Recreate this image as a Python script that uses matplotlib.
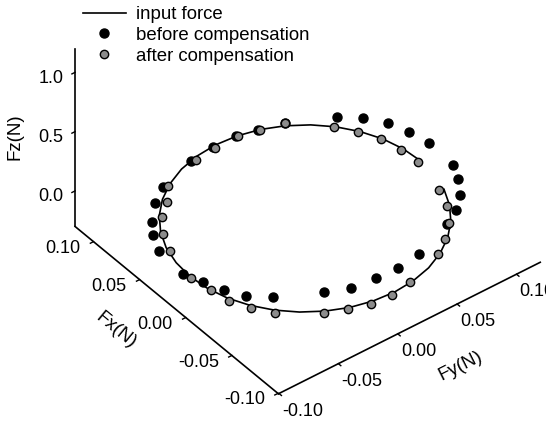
import matplotlib
matplotlib.use('Agg')
import matplotlib.pyplot as plt
import numpy as np

plt.rcParams['font.family'] = ['Liberation Sans', 'DejaVu Sans']
plt.rcParams['axes.unicode_minus'] = False

# Input force: circle in the Fx-Fy plane, read every 10 deg (nan = gap in the trace)
input_fx = [0.097, 0.0955, 0.0912, 0.084, 0.0743, 0.0624, 0.0485, 0.0332, 0.0168, 0.0,
            np.nan, -0.0332, -0.0485, -0.0624, -0.0743, -0.084, -0.0912, -0.0955, -0.097,
            -0.0955, -0.0912, -0.084, -0.0743, -0.0624, -0.0485, -0.0332, -0.0168, 0.0,
            0.0168, 0.0332, 0.0485, 0.0624, 0.0743, 0.084, 0.0912, 0.0955, 0.097]
input_fy = [0.0, 0.0168, 0.0332, 0.0485, 0.0624, 0.0743, 0.084, 0.0912, 0.0955, 0.097,
            np.nan, 0.0912, 0.084, 0.0743, 0.0624, 0.0485, 0.0332, 0.0168, 0.0,
            -0.0168, -0.0332, -0.0485, -0.0624, -0.0743, -0.084, -0.0912, -0.0955, -0.097,
            -0.0955, -0.0912, -0.084, -0.0743, -0.0624, -0.0485, -0.0332, -0.0168, 0.0]
input_fz = [0.03] * len(input_fx)

# Before compensation
before_fx = [0.070, 0.058, 0.044, 0.028, 0.011, -0.017, -0.031, -0.044, -0.055, -0.063,
             -0.076, -0.079, -0.078, -0.076, -0.068, -0.051, -0.039, -0.025, -0.010, 0.005,
             0.034, 0.049, 0.060, 0.074, 0.084, 0.094, 0.096, 0.096, 0.092, 0.086]
before_fy = [0.081, 0.094, 0.104, 0.109, 0.113, 0.111, 0.105, 0.096, 0.084, 0.071,
             0.037, 0.017, -0.001, -0.020, -0.037, -0.067, -0.080, -0.088, -0.094, -0.099,
             -0.097, -0.090, -0.082, -0.069, -0.054, -0.023, -0.003, 0.016, 0.032, 0.050]
before_fz = [0.03] * len(before_fx)

# After compensation
after_fx = [0.063, 0.049, 0.034, 0.017, 0.000, -0.032, -0.048, -0.063, -0.074, -0.084,
            -0.095, -0.098, -0.097, -0.092, -0.085, -0.065, -0.051, -0.036, -0.020, -0.002,
            0.029, 0.046, 0.060, 0.070, 0.083, 0.093, 0.095, 0.095, 0.091, 0.086]
after_fy = [0.073, 0.083, 0.090, 0.094, 0.095, 0.088, 0.082, 0.072, 0.060, 0.047,
            0.015, -0.003, -0.020, -0.035, -0.050, -0.076, -0.085, -0.092, -0.095, -0.098,
            -0.091, -0.084, -0.074, -0.062, -0.051, -0.020, -0.002, 0.017, 0.033, 0.050]
after_fz = [0.03] * len(after_fx)

fxy_ticks = [-0.10, -0.05, 0.00, 0.05, 0.10]
fz_ticks = [0.0, 0.5, 1.0]

# axis ranges (Fx and Fy share one)
f_lo, f_hi = -0.1005, 0.12
z_lo, z_hi = -0.3, 1.2

fig = plt.figure(figsize=(5.46, 4.23), dpi=100)
ax = fig.add_axes([0.053, 0.119, 1, 1], projection='3d', proj_type='ortho',
                  computed_zorder=False)
ax.view_init(elev=40, azim=-128)

# matplotlib x = Fy, y = Fx (keeps the original left-handed look)
ax.plot(input_fy, input_fx, input_fz, color='black', lw=1.2, zorder=1,
        label='input force')
ax.plot(before_fy, before_fx, before_fz, ls='none', marker='o', ms=6.5,
        mfc='black', mec='black', zorder=2, label='before compensation')
ax.plot(after_fy, after_fx, after_fz, ls='none', marker='o', ms=6,
        mfc='#8c8c8c', mec='black', mew=1.0, zorder=3, label='after compensation')

ax.set_xlim(f_lo, f_hi)
ax.set_ylim(f_lo, f_hi)
ax.set_zlim(z_lo, z_hi)
ax.set_box_aspect((332, 330, 232), zoom=1.2)

ax.set_xticks(fxy_ticks)
ax.set_yticks(fxy_ticks)
ax.set_zticks(fz_ticks)

ax.grid(False)
for axis in (ax.xaxis, ax.yaxis, ax.zaxis):
    axis.set_tick_params(labelbottom=False)
    axis.label.set_visible(False)
    axis.offsetText.set_visible(False)
    axis.set_pane_color((1, 1, 1, 0))
    axis.pane.set_edgecolor((1, 1, 1, 0))
    axis.line.set_color('black')
    axis.line.set_linewidth(1.2)
    axis._axinfo['tick']['inward_factor'] = 0.15
    axis._axinfo['tick']['outward_factor'] = 0.0
    axis._axinfo['tick']['linewidth'] = {True: 1.0, False: 0.5}

# Tick labels placed by hand, SigmaPlot style
tick_kw = dict(fontsize=13, zorder=5)
for t in fxy_ticks:
    # Fx axis runs along the Fy = min edge
    ax.text(f_lo - 0.011, t, z_lo, f'{t:.2f}', ha='right', va='center', **tick_kw)
    # Fy axis runs along the Fx = min edge
    ax.text(t - 0.0042, f_lo - 0.0087, z_lo, f'{t:.2f}', ha='left', va='top', **tick_kw)
for t in fz_ticks:
    ax.text(f_lo - 0.01, f_hi, t, f'{t:.1f}', ha='right', va='center', **tick_kw)

# Axis titles, aligned with their axes
lab_kw = dict(fontsize=13.5, ha='center', va='center', zorder=5)
ax.text(-0.145, 0.018, z_lo, 'Fx(N)', zdir=(0, -1, 0), **lab_kw)
ax.text(0.0125, -0.153, z_lo, 'Fy(N)', zdir='x', **lab_kw)
ax.text(-0.151, f_hi, 0.71, 'Fz(N)', zdir='z', **lab_kw)

ax.legend(loc='upper left', bbox_to_anchor=(83 / 546, 1 - 6 / 423),
          bbox_transform=fig.transFigure, frameon=False, fontsize=13.4,
          borderpad=0, borderaxespad=0, labelspacing=0.2,
          handlelength=2.3, handletextpad=0.55)

fig.savefig('out.png', dpi=100)
